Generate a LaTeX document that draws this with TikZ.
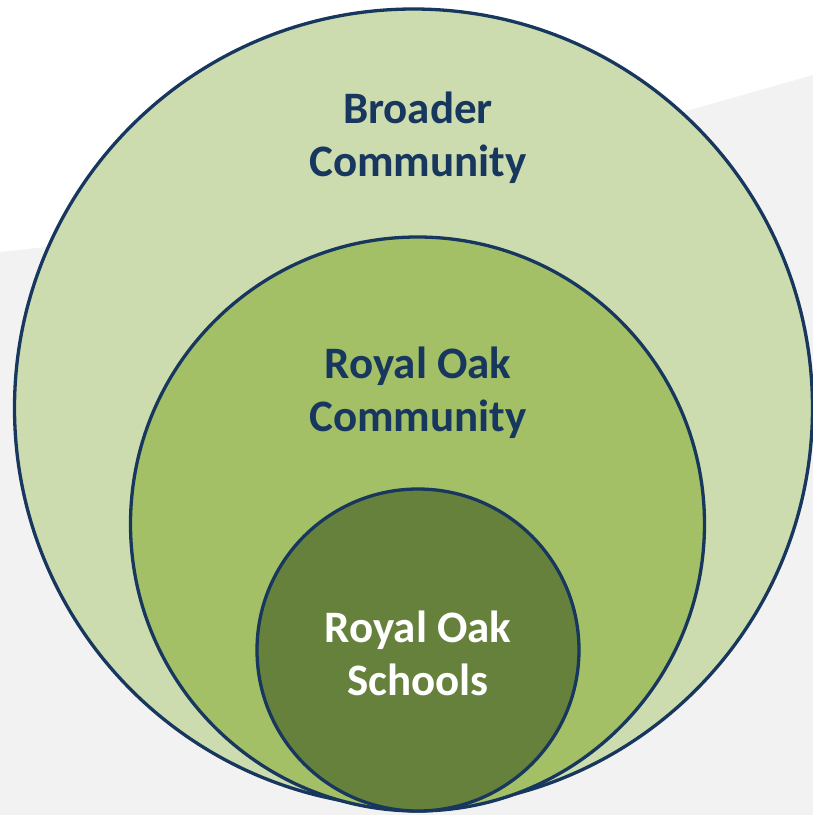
\documentclass[tikz,border=0pt]{standalone}
\usepackage{fontspec}
\setmainfont{Carlito}
\usepackage{tikz}
\usetikzlibrary{positioning}

\definecolor{ringline}{HTML}{17375E}
\definecolor{outerfill}{HTML}{CDDCAF}
\definecolor{middlefill}{HTML}{A4C067}
\definecolor{innerfill}{HTML}{66813C}
\definecolor{backgray}{HTML}{F2F2F2}

\begin{document}
\begin{tikzpicture}[x=1pt, y=-1pt,
ringnode/.style={circle, draw=ringline, line width=3.3pt, inner sep=0pt},
labelnode/.style={align=center, font=\fontsize{45}{53}\selectfont\bfseries, text=ringline, inner sep=0pt},
]
\useasboundingbox (0,0) rectangle (813,815);

%Background
\fill[backgray] (0,252) -- (312,218) -- (690,110) -- (813,75) -- (813,815) -- (0,815) -- cycle;

%Nodes
\node[ringnode, fill=outerfill,  minimum size=798pt] (broader) at (413.5,408) {};
\node[ringnode, fill=middlefill, minimum size=574pt] (royaloak) at (417.5,524) {};
\node[ringnode, fill=innerfill,  minimum size=322pt] (schools) at (418,650) {};

\node[labelnode] (broaderlabel)  at (418,138) {Broader\\Community};
\node[labelnode] (royaloaklabel) at (418,393) {Royal Oak\\Community};
\node[labelnode, text=white] (schoolslabel) at (418,653) {Royal Oak\\Schools};

\end{tikzpicture}
\end{document}
